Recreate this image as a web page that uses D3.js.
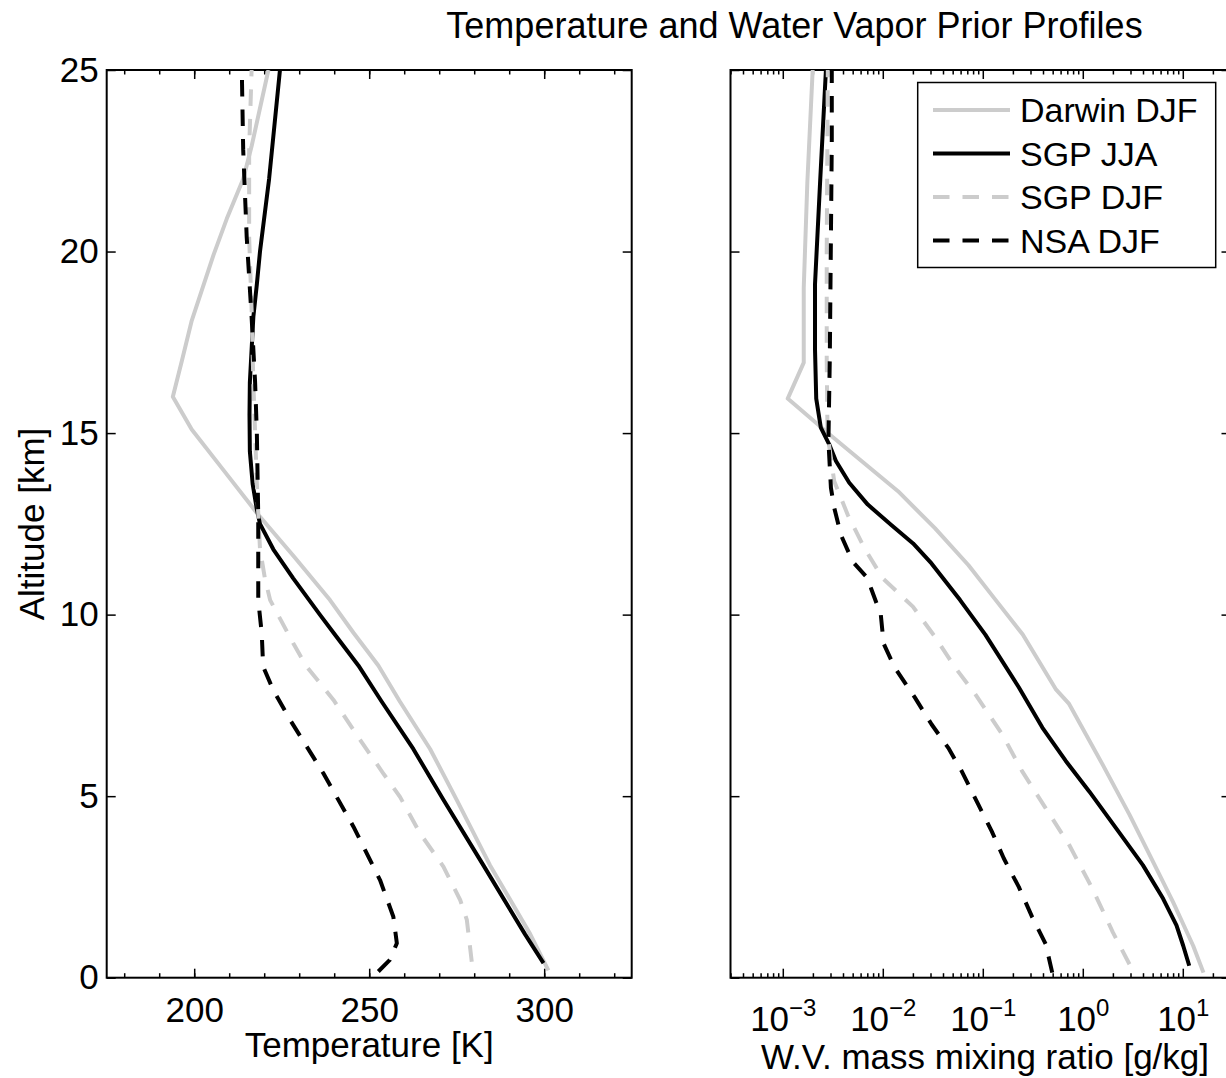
<!DOCTYPE html>
<html>
<head>
<meta charset="utf-8">
<script src="https://cdn.jsdelivr.net/npm/d3@7"></script>
<style>
  body { margin: 0; background: #fff; }
  svg text { font-family: "Liberation Sans", Arial, Helvetica, sans-serif; fill: #000; }
</style>
</head>
<body>
<div id="viz"></div>
<script>
// ---------- data ----------
var altTicks = [0, 5, 10, 15, 20, 25];
var tempTicks = [200, 250, 300];
var tempMinorTicks = [180, 190, 200, 210, 220, 230, 240, 250, 260, 270, 280, 290, 300, 310, 320];
var wvTicks = [1e-3, 1e-2, 1e-1, 1, 10];
var wvTickExps = ['\u22123', '\u22122', '\u22121', '0', '1'];

var seriesNames = ['Darwin DJF', 'SGP JJA', 'SGP DJF', 'NSA DJF'];

// temperature profiles [K] vs altitude [km]
var darwinTAlt = [0.2, 1.2, 3.1, 4.9, 6.3, 7.6, 8.6, 9.5, 10.4, 11.6, 12.8, 14.0, 15.1, 16.0, 17.0, 18.1, 19.9, 20.9, 22.0, 22.9, 25];
var darwinT    = [301.2, 296.0, 284.5, 275.0, 267.4, 258.8, 252.6, 245.5, 238.8, 228.5, 217.9, 208.2, 199.3, 193.9, 196.5, 199.3, 205.5, 209.3, 214.0, 216.4, 221.2];

var sgpJjaTAlt = [0.4, 1.2, 3.1, 4.9, 6.3, 7.6, 8.6, 9.5, 10.0, 11.0, 11.8, 12.5, 12.9, 13.6, 14.5, 15.5, 16.4, 17.3, 18.2, 19.1, 20.0, 22.0, 25.0];
var sgpJjaT    = [299.8, 294.5, 282.6, 271.2, 262.6, 253.6, 246.9, 239.8, 235.9, 228.3, 222.6, 218.8, 217.9, 216.7, 215.9, 215.8, 215.9, 216.4, 216.9, 217.9, 218.8, 221.4, 224.5];

var sgpDjfTAlt = [0.44, 1.59, 2.14, 3.06, 3.98, 4.98, 5.63, 6.55, 7.65, 8.57, 9.21, 10.4, 11.0, 11.8, 13.6, 15.0, 16.4, 18.4, 20.4, 22.8, 25];
var sgpDjfT    = [279.3, 277.9, 276.0, 271.2, 264.5, 258.8, 254.0, 247.4, 239.8, 232.1, 228.3, 221.7, 220.2, 218.8, 217.9, 217.4, 216.9, 216.4, 215.7, 215.7, 216.4];

var nsaTAlt = [0.17, 0.49, 0.95, 1.68, 2.69, 4.16, 5.63, 7.1, 7.92, 8.57, 9.48, 10.4, 12.7, 15.0, 16.4, 18.2, 20.4, 22.8, 25];
var nsaT    = [252.6, 255.9, 257.9, 256.9, 253.1, 245.5, 236.9, 227.4, 222.6, 219.7, 219.3, 218.3, 218.3, 217.9, 217.4, 216.4, 215.0, 214.0, 213.6];

// water vapour mass mixing ratio [g/kg] vs altitude [km]
var darwinQAlt = [0.14, 0.88, 2.08, 3.47, 4.49, 5.87, 7.54, 7.95, 9.45, 10.42, 11.36, 12.38, 13.4, 14.32, 14.98, 15.95, 16.94, 19.0, 21.9, 25];
var darwinQ    = [16.1, 12.7, 8.0, 4.49, 2.93, 1.58, 0.73, 0.536, 0.251, 0.133, 0.072, 0.0332, 0.0142, 0.0056, 0.00288, 0.00112, 0.00162, 0.00162, 0.00176, 0.00199];

var sgpJjaQAlt = [0.33, 0.88, 1.44, 2.18, 3.10, 4.12, 5.13, 5.97, 6.89, 8.0, 9.45, 10.4, 11.41, 11.96, 12.47, 13.03, 13.63, 14.23, 14.69, 15.15, 15.95, 17.3, 19.1, 21.9, 25];
var sgpJjaQ    = [11.6, 10.1, 8.65, 6.35, 3.99, 2.15, 1.16, 0.676, 0.394, 0.229, 0.106, 0.0593, 0.0307, 0.0201, 0.01216, 0.00708, 0.00462, 0.0034, 0.00291, 0.0024, 0.00216, 0.0021, 0.0021, 0.00236, 0.0027];

var sgpDjfQAlt = [0.37, 1.25, 2.45, 3.66, 4.67, 5.69, 6.71, 7.81, 8.55, 9.39, 10.22, 11.0, 11.83, 12.75, 13.67, 14.97, 17, 20, 25];
var sgpDjfQ    = [2.93, 2.0, 1.25, 0.73, 0.425, 0.247, 0.156, 0.084, 0.0527, 0.0332, 0.020, 0.010, 0.00655, 0.00446, 0.00327, 0.0028, 0.00275, 0.00275, 0.00282];

var nsaQAlt = [0.14, 0.93, 1.67, 2.50, 3.29, 4.03, 4.76, 5.69, 6.33, 6.98, 7.72, 8.55, 9.2, 10.0, 10.72, 11.0, 11.46, 12.19, 12.94, 13.49, 14.78, 17, 20, 23, 25];
var nsaQ    = [0.495, 0.425, 0.312, 0.229, 0.162, 0.123, 0.0906, 0.0615, 0.0452, 0.0307, 0.0209, 0.0131, 0.0102, 0.00955, 0.00764, 0.00708, 0.0050, 0.00382, 0.00327, 0.00303, 0.00286, 0.00295, 0.00302, 0.00309, 0.00309];

// ---------- layout ----------
var width = 1226,
    height = 1078,
    plotTop = 70,
    plotBottom = 977.7,
    lineW = 4;

var series = [
    { name: seriesNames[0], color: '#cccccc', dash: null, tAlt: darwinTAlt, t: darwinT, qAlt: darwinQAlt, q: darwinQ },
    { name: seriesNames[1], color: '#000000', dash: null, tAlt: sgpJjaTAlt, t: sgpJjaT, qAlt: sgpJjaQAlt, q: sgpJjaQ },
    { name: seriesNames[2], color: '#cccccc', dash: '16.5,13', tAlt: sgpDjfTAlt, t: sgpDjfT, qAlt: sgpDjfQAlt, q: sgpDjfQ },
    { name: seriesNames[3], color: '#000000', dash: '16.5,13', tAlt: nsaTAlt, t: nsaT, qAlt: nsaQAlt, q: nsaQ }
];

var yScale = d3.scaleLinear().domain([0, 25]).range([plotBottom, plotTop]);
var tScale = d3.scaleLinear().domain([175, 325]).range([106.7, 631.7]);
var qScale = d3.scaleLog().domain([3e-4, 30]).range([730.5, 1230.5]);

var svg = d3.select('#viz').append('svg')
    .attr('width', width)
    .attr('height', height)
    .style('background', '#fff');

function styleAxis(g) {
    g.select('.domain').remove();
    g.selectAll('line').attr('stroke', '#000').attr('stroke-width', 1.5);
    g.selectAll('text').attr('font-size', 35).attr('fill', '#000').attr('font-family', null);
}

function drawPanel(xScale, majorX, minorX, clipId) {
    var x0 = xScale.range()[0], x1 = xScale.range()[1];
    var g = svg.append('g');

    // y ticks left and right (inward)
    g.append('g').attr('transform', 'translate(' + x0 + ',0)')
        .call(d3.axisLeft(yScale).tickValues(altTicks).tickSizeInner(-9).tickSizeOuter(0).tickFormat(''))
        .call(styleAxis);
    g.append('g').attr('transform', 'translate(' + x1 + ',0)')
        .call(d3.axisRight(yScale).tickValues(altTicks).tickSizeInner(-9).tickSizeOuter(0).tickFormat(''))
        .call(styleAxis);

    // x ticks bottom and top, major and minor
    [[plotBottom, d3.axisBottom], [plotTop, d3.axisTop]].forEach(function (p) {
        g.append('g').attr('transform', 'translate(0,' + p[0] + ')')
            .call(p[1](xScale).tickValues(majorX).tickSizeInner(-9).tickSizeOuter(0).tickFormat(''))
            .call(styleAxis);
        g.append('g').attr('transform', 'translate(0,' + p[0] + ')')
            .call(p[1](xScale).tickValues(minorX).tickSizeInner(-4.5).tickSizeOuter(0).tickFormat(''))
            .call(styleAxis);
    });

    svg.append('clipPath').attr('id', clipId)
        .append('rect').attr('x', x0).attr('y', plotTop).attr('width', x1 - x0).attr('height', plotBottom - plotTop);

    g.append('rect')
        .attr('x', x0).attr('y', plotTop)
        .attr('width', x1 - x0).attr('height', plotBottom - plotTop)
        .attr('fill', 'none').attr('stroke', '#000').attr('stroke-width', 2);
    return g;
}

// ---------- left panel: temperature ----------
var left = drawPanel(tScale, tempTicks, tempMinorTicks, 'clipL');

left.append('g').attr('transform', 'translate(106.7,0)')
    .call(d3.axisLeft(yScale).tickValues(altTicks).tickSize(0).tickPadding(8))
    .call(styleAxis);

left.append('g').attr('transform', 'translate(0,' + plotBottom + ')')
    .call(d3.axisBottom(tScale).tickValues(tempTicks).tickSize(0).tickPadding(19))
    .call(styleAxis);

var tempLine = d3.line()
    .x(function (d) { return tScale(d[1]); })
    .y(function (d) { return yScale(d[0]); });

left.append('g').attr('clip-path', 'url(#clipL)')
    .selectAll('path').data(series)
    .enter().append('path')
    .attr('d', function (s) { return tempLine(d3.zip(s.tAlt, s.t)); })
    .attr('fill', 'none')
    .attr('stroke', function (s) { return s.color; })
    .attr('stroke-width', lineW)
    .attr('stroke-linejoin', 'round')
    .attr('stroke-dasharray', function (s) { return s.dash; });

svg.append('text')
    .attr('transform', 'translate(44,524) rotate(-90)')
    .attr('text-anchor', 'middle')
    .attr('font-size', 35)
    .text('Altitude [km]');

svg.append('text')
    .attr('x', 369.2).attr('y', 1057)
    .attr('text-anchor', 'middle')
    .attr('font-size', 35)
    .text('Temperature [K]');

// ---------- right panel: water vapour ----------
var wvMinor = qScale.ticks().filter(function (v) {
    return wvTicks.indexOf(v) < 0;
});
var right = drawPanel(qScale, wvTicks, wvMinor, 'clipR');

right.append('g').attr('transform', 'translate(0,' + plotBottom + ')')
    .call(d3.axisBottom(qScale).tickValues(wvTicks).tickSize(0).tickPadding(28).tickFormat(''))
    .call(styleAxis)
    .selectAll('.tick text')
    .each(function (d, i) {
        var t = d3.select(this);
        t.append('tspan').text('10');
        t.append('tspan').attr('dy', '-0.62em').attr('font-size', 24).text(wvTickExps[i]);
    });

var wvLine = d3.line()
    .x(function (d) { return qScale(d[1]); })
    .y(function (d) { return yScale(d[0]); });

right.append('g').attr('clip-path', 'url(#clipR)')
    .selectAll('path').data(series)
    .enter().append('path')
    .attr('d', function (s) { return wvLine(d3.zip(s.qAlt, s.q)); })
    .attr('fill', 'none')
    .attr('stroke', function (s) { return s.color; })
    .attr('stroke-width', lineW)
    .attr('stroke-linejoin', 'round')
    .attr('stroke-dasharray', function (s) { return s.dash; });

svg.append('text')
    .attr('x', 985).attr('y', 1069)
    .attr('text-anchor', 'middle')
    .attr('font-size', 35)
    .text('W.V. mass mixing ratio [g/kg]');

// ---------- legend ----------
var legend = svg.append('g');
legend.append('rect')
    .attr('x', 917.7).attr('y', 82.5)
    .attr('width', 298).attr('height', 185)
    .attr('fill', '#fff').attr('stroke', '#000').attr('stroke-width', 1.5);

var rows = legend.selectAll('g.row').data(series)
    .enter().append('g')
    .attr('class', 'row')
    .attr('transform', function (d, i) { return 'translate(0,' + (110 + i * 43.5) + ')'; });

rows.append('line')
    .attr('x1', 933).attr('x2', 1010)
    .attr('stroke', function (s) { return s.color; })
    .attr('stroke-width', lineW)
    .attr('stroke-dasharray', function (s) { return s.dash; });

rows.append('text')
    .attr('x', 1020).attr('y', 12)
    .attr('font-size', 34)
    .text(function (s) { return s.name; });

// ---------- title ----------
svg.append('text')
    .attr('x', 794.5).attr('y', 38)
    .attr('text-anchor', 'middle')
    .attr('font-size', 36)
    .text('Temperature and Water Vapor Prior Profiles');
</script>
</body>
</html>
